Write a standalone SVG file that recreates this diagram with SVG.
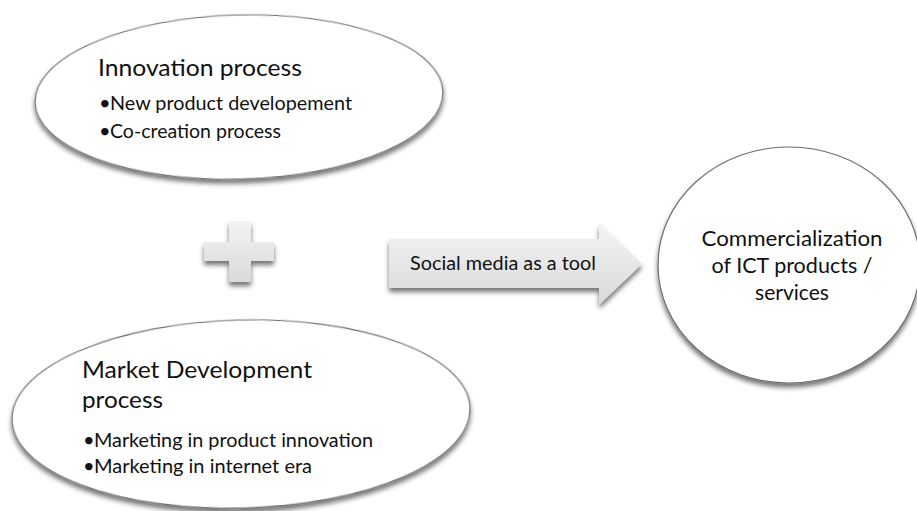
<svg xmlns="http://www.w3.org/2000/svg" width="917" height="511" viewBox="0 0 917 511">
  <defs>
    <filter id="sh" x="-20%" y="-20%" width="140%" height="150%">
      <feGaussianBlur in="SourceAlpha" stdDeviation="2.5"/>
      <feOffset dx="0" dy="4" result="b"/>
      <feComponentTransfer><feFuncA type="linear" slope="0.55"/></feComponentTransfer>
      <feMerge><feMergeNode/><feMergeNode in="SourceGraphic"/></feMerge>
    </filter>
    <linearGradient id="gray" x1="0" y1="0" x2="0" y2="1">
      <stop offset="0" stop-color="#f4f4f4"/>
      <stop offset="1" stop-color="#d9d9d9"/>
    </linearGradient>
  </defs>
  <style>
    .node { fill: #ffffff; stroke: #6e6e6e; stroke-width: 1.2; }
    .shape { fill: url(#gray); stroke: none; }
    text { font-family: Lato, "Open Sans", "Liberation Sans", sans-serif; fill: #111111; }
    .h { font-size: 23.5px; }
    .b { font-size: 18.5px; }
    .dot { font-size: 20px; }
    .c { font-size: 21.5px; text-anchor: middle; }
  </style>
  <rect width="917" height="511" fill="#ffffff"/>

  <g id="innovation">
    <ellipse class="node" cx="239" cy="97" rx="204" ry="82" transform="rotate(-1.5 239 97)" filter="url(#sh)"/>
    <text class="h" x="98" y="76" textLength="204" lengthAdjust="spacingAndGlyphs">Innovation process</text>
    <text class="dot" x="99" y="110">•</text>
    <text class="b" x="110" y="110" textLength="242" lengthAdjust="spacingAndGlyphs">New product developement</text>
    <text class="dot" x="99" y="138">•</text>
    <text class="b" x="110" y="138" textLength="171" lengthAdjust="spacingAndGlyphs">Co-creation process</text>
  </g>

  <g id="plus">
    <path class="shape" filter="url(#sh)" d="M229,221 H251 V242 H274 V261 H251 V282 H229 V261 H204 V242 H229 Z"/>
  </g>

  <g id="market">
    <ellipse class="node" cx="241" cy="414" rx="229" ry="94" transform="rotate(-1.5 241 414)" filter="url(#sh)"/>
    <text class="h" x="82" y="378" textLength="230" lengthAdjust="spacingAndGlyphs">Market Development</text>
    <text class="h" x="82" y="408" textLength="81" lengthAdjust="spacingAndGlyphs">process</text>
    <text class="dot" x="83" y="447">•</text>
    <text class="b" x="94" y="447" textLength="279" lengthAdjust="spacingAndGlyphs">Marketing in product innovation</text>
    <text class="dot" x="83" y="473">•</text>
    <text class="b" x="94" y="473" textLength="218" lengthAdjust="spacingAndGlyphs">Marketing in internet era</text>
  </g>

  <g id="commercialization">
    <ellipse class="node" cx="789" cy="265" rx="131" ry="118" filter="url(#sh)"/>
    <text class="c" x="792" y="246" textLength="181" lengthAdjust="spacingAndGlyphs">Commercialization</text>
    <text class="c" x="792" y="273" textLength="161" lengthAdjust="spacingAndGlyphs">of ICT products /</text>
    <text class="c" x="792" y="300" textLength="74" lengthAdjust="spacingAndGlyphs">services</text>
  </g>

  <g id="connectors">
    <g id="arrow">
      <path class="shape" filter="url(#sh)" d="M389,239 H599 V223 L642,264 L599,305 V288 H389 Z"/>
      <text class="b" x="410" y="270" textLength="186" lengthAdjust="spacingAndGlyphs">Social media as a tool</text>
    </g>
  </g>
</svg>
